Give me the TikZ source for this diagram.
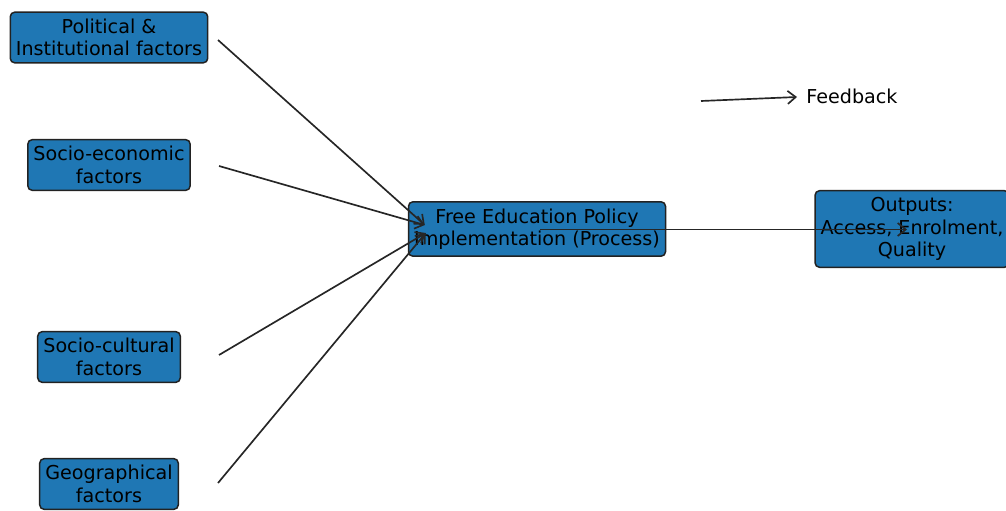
\documentclass[tikz,border=0pt]{standalone}
\usepackage{fontspec}
\setmainfont{DejaVu Sans}
\usepackage{tikz}
\usetikzlibrary{
  arrows.meta,
  calc,
  positioning
}
\definecolor{boxblue}{RGB}{31,119,180}
\definecolor{edgegray}{RGB}{34,34,34}

\begin{document}
\begin{tikzpicture}[
  x=0.02cm, y=-0.02cm,
  block/.style={draw=edgegray, fill=boxblue, line width=0.85pt, rounded corners=2.5pt,
                align=center, inner xsep=3.2pt, inner ysep=3.8pt,
                font=\fontsize{10.9}{12.8}\selectfont},
  arr/.style={-{Straight Barb[length=1.6mm, width=2.6mm]}, line width=0.95pt, black!85}
]
  \useasboundingbox (0,0) rectangle (1006,510);

  % factor boxes
  \node[block] (pol) at (109,37.5) {Political \&\\Institutional factors};
  \node[block] (socecon) at (109,165) {Socio-economic\\factors};
  \node[block] (soccult) at (109,357) {Socio-cultural\\factors};
  \node[block] (geo) at (109,484) {Geographical\\factors};

  % process
  \node[block] (proc) at (537,229) {Free Education Policy\\Implementation (Process)};

  % outputs
  \node[block] (outp) at (912,229) {Outputs:\\Access, Enrolment,\\Quality};

  % feedback label
  \node[anchor=west, inner sep=0pt, font=\fontsize{10.9}{12.8}\selectfont] (fb) at (806,96) {Feedback};
  \coordinate (fbstart) at (701,101);

  % Arrows
  \draw[arr] ([shift={(109,2.5)}]pol.center) -- ([shift={(17,-4)}]proc.west);
  \draw[arr] ([shift={(110,1)}]socecon.center) -- ([shift={(17,-4)}]proc.west);
  \draw[arr] ([shift={(110,-2)}]soccult.center) -- ([shift={(18,4)}]proc.west);
  \draw[arr] ([shift={(109,-1)}]geo.center) -- ([shift={(18,4)}]proc.west);
  \draw[arr] ([shift={(3,0.5)}]proc.center) -- ([shift={(-5,0.5)}]outp.center);
  \draw[arr] (fbstart) -- ([shift={(-9,1)}]fb.west);

\end{tikzpicture}
\end{document}
